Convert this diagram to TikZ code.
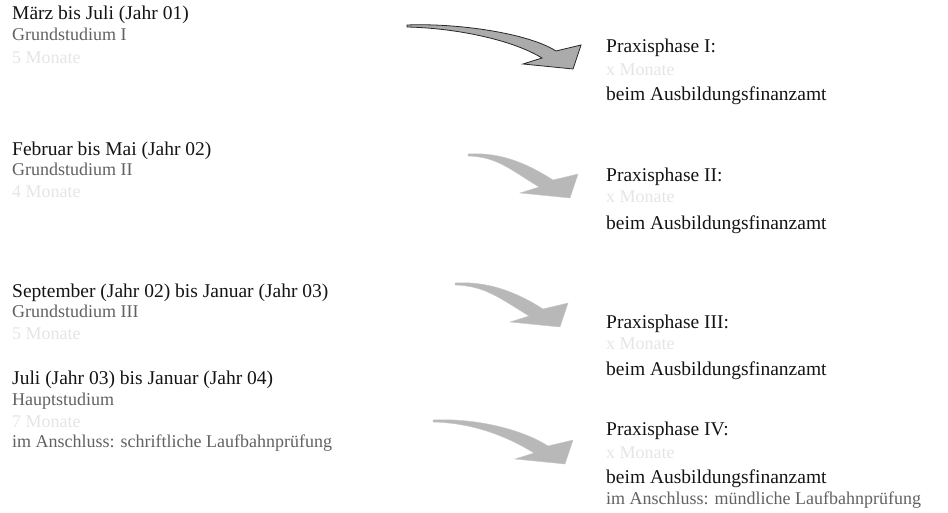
\documentclass[tikz,border=0pt]{standalone}
\usepackage{fontspec}
\setmainfont{Liberation Serif}
\begin{document}
\begin{tikzpicture}[x=1pt,y=-1pt,
 headtxt/.style={anchor=base west, inner sep=0, font=\fontsize{19.5}{22}\selectfont, text=black!92},
 subtxt/.style={anchor=base west, inner sep=0, font=\fontsize{18}{22}\selectfont, text=black!62},
 fainttxt/.style={anchor=base west, inner sep=0, font=\fontsize{18}{22}\selectfont, text=black!10},
 pics/carrow/.style={code={\path[pic actions] (#1,-44) .. controls ({0.7*#1},-46) and (-45,-36) .. (-17,-18) -- (8,-24) -- (0,0) -- (-50,-5) -- (-31,-11) .. controls (-62,-30) and ({0.72*#1},-41) .. (#1,-42) -- cycle;}},
 darkarrow/.style={fill=black!33, draw=black!85, line width=0.8pt, line join=miter},
 lightarrow/.style={fill=black!28, draw=black!22, line width=0.4pt, line join=miter}
]
\useasboundingbox (0,0) rectangle (948,513);
% left column
\node[headtxt] (l1a) at (12,20) {März bis Juli (Jahr 01)};
\node[subtxt] (l1b) at (12,41) {Grundstudium I};
\node[fainttxt] (l1c) at (12,64) {5 Monate};
\node[headtxt] (l2a) at (12,156) {Februar bis Mai (Jahr 02)};
\node[subtxt] (l2b) at (12,176) {Grundstudium II};
\node[fainttxt] (l2c) at (12,198) {4 Monate};
\node[headtxt] (l3a) at (12,298) {September (Jahr 02) bis Januar (Jahr 03)};
\node[subtxt] (l3b) at (12,317) {Grundstudium III};
\node[fainttxt] (l3c) at (12,339) {5 Monate};
\node[headtxt] (l4a) at (12,384) {Juli (Jahr 03) bis Januar (Jahr 04)};
\node[subtxt] (l4b) at (12,405) {Hauptstudium};
\node[fainttxt] (l4c) at (12,427) {7 Monate};
\node[subtxt] (l4d) at (12,447) {im Anschluss: schriftliche Laufbahnprüfung};
% right column
\node[headtxt] (r1a) at (606,53) {Praxisphase I:};
\node[fainttxt] (r1b) at (606,76) {x Monate};
\node[headtxt] (r1c) at (606,101) {beim Ausbildungsfinanzamt};
\node[headtxt] (r2a) at (606,182) {Praxisphase II:};
\node[fainttxt] (r2b) at (606,203) {x Monate};
\node[headtxt] (r2c) at (606,230) {beim Ausbildungsfinanzamt};
\node[headtxt] (r3a) at (606,328) {Praxisphase III:};
\node[fainttxt] (r3b) at (606,349) {x Monate};
\node[headtxt] (r3c) at (606,375) {beim Ausbildungsfinanzamt};
\node[headtxt] (r4a) at (606,435) {Praxisphase IV:};
\node[fainttxt] (r4b) at (606,458) {x Monate};
\node[headtxt] (r4c) at (606,483) {beim Ausbildungsfinanzamt};
\node[subtxt] (r4d) at (606,504) {im Anschluss: mündliche Laufbahnprüfung};
% arrows
\coordinate (t1) at (573,69);
\coordinate (t2) at (570,198);
\coordinate (t3) at (560,327);
\coordinate (t4) at (565,464);
\pic[darkarrow] at (t1) {carrow=-166};
\pic[lightarrow] at (t2) {carrow=-102};
\pic[lightarrow] at (t3) {carrow=-105};
\pic[lightarrow] at (t4) {carrow=-132};
\end{tikzpicture}
\end{document}
